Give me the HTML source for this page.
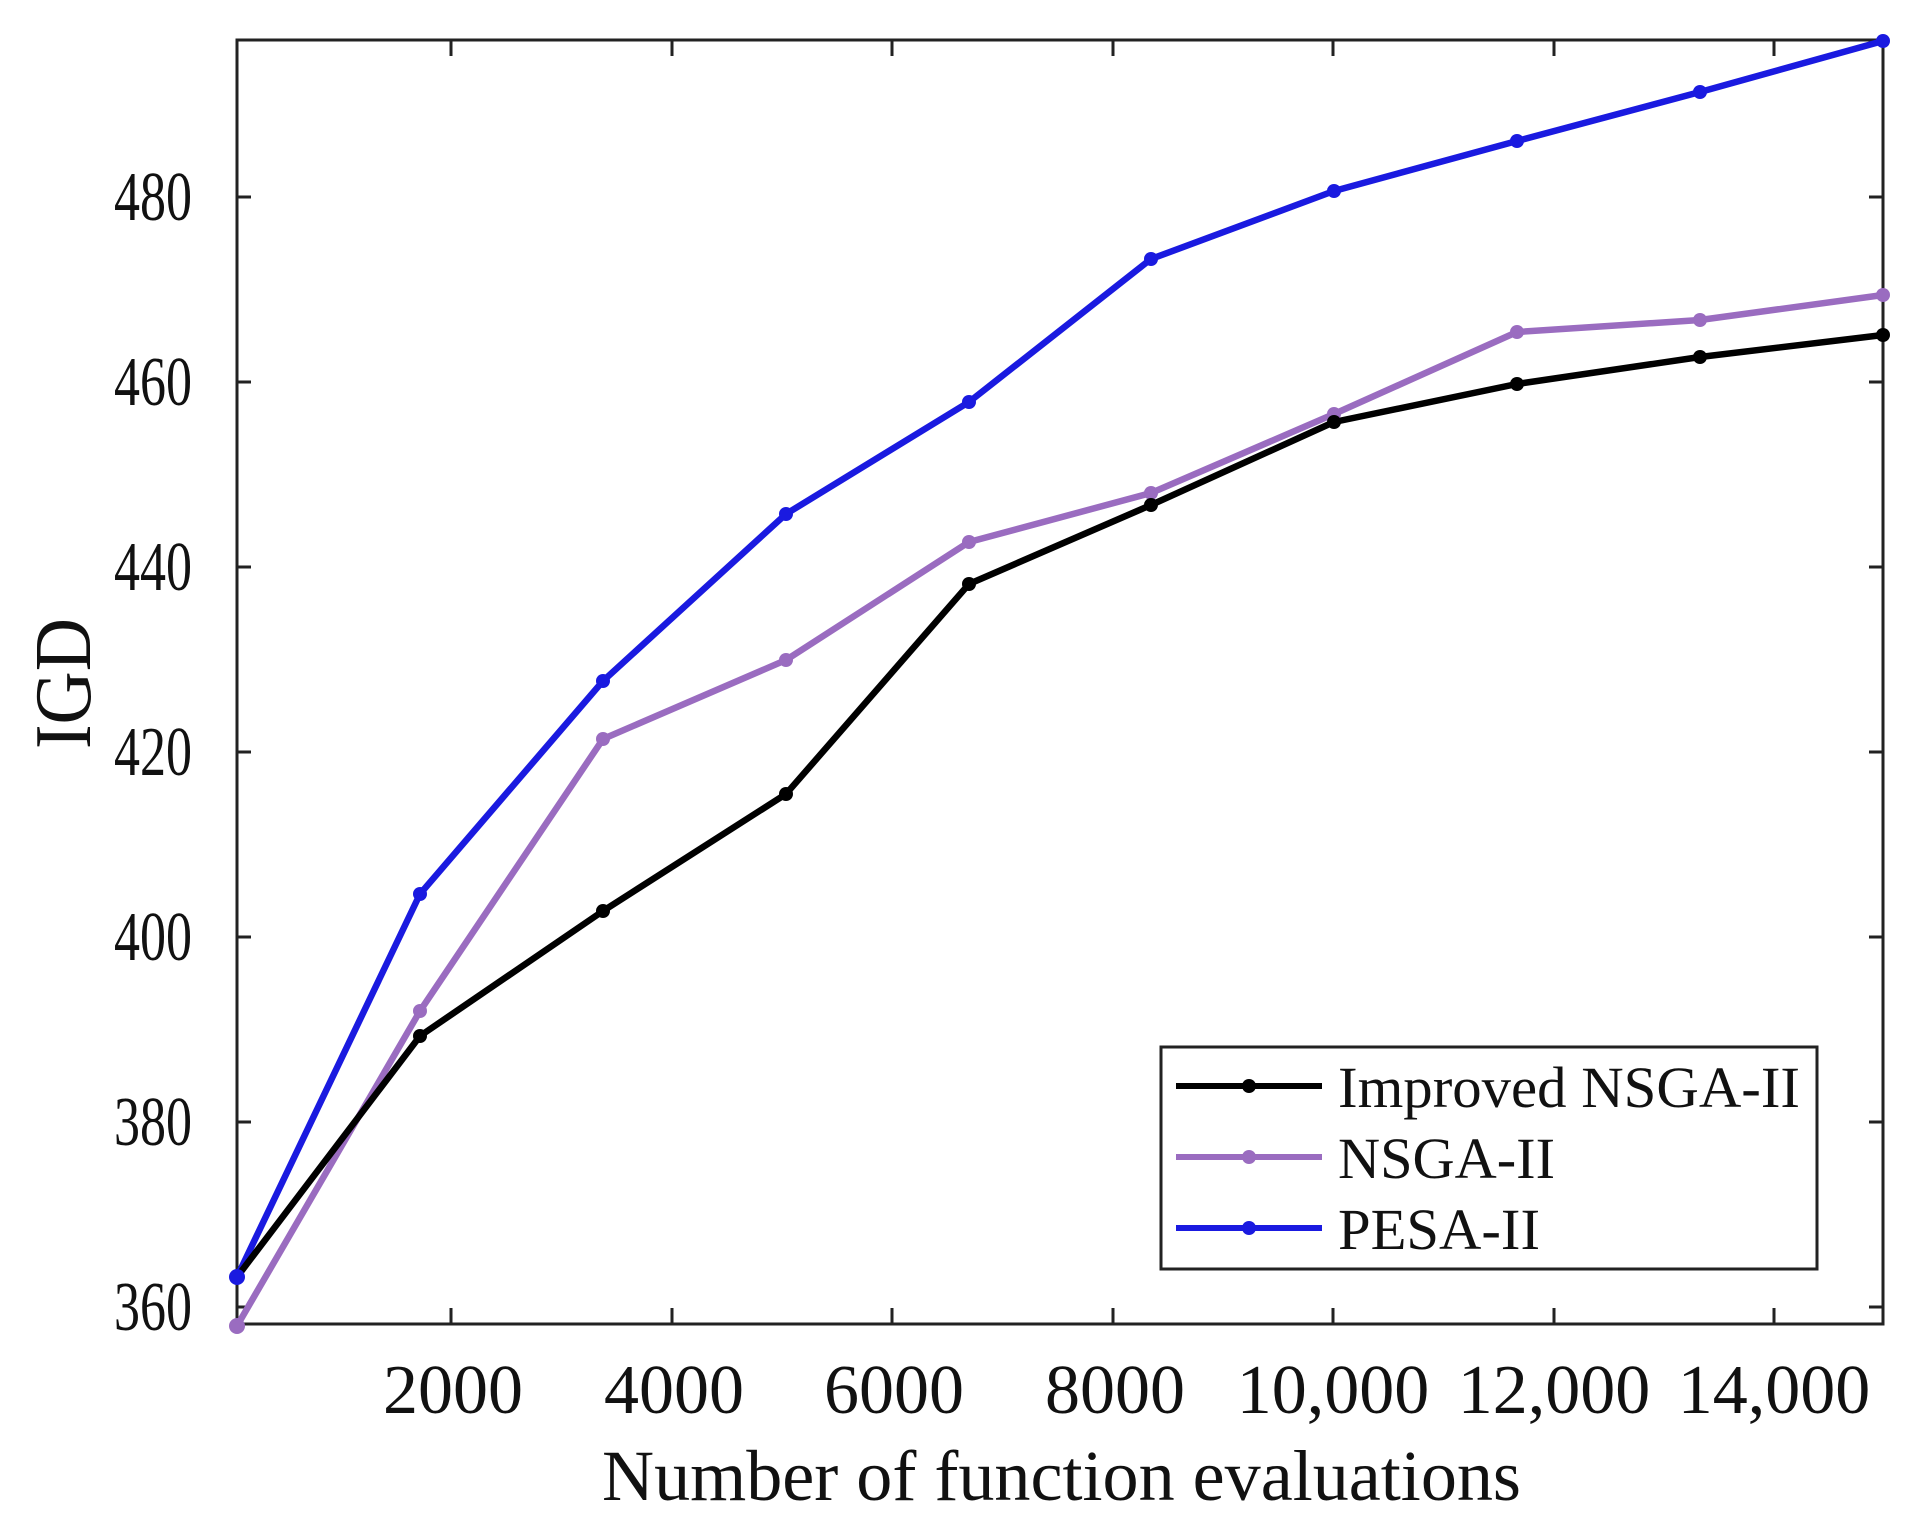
<!DOCTYPE html>
<html><head><meta charset="utf-8"><style>
html,body{margin:0;padding:0;background:#fff;}
svg{display:block;}
text{font-family:"Liberation Serif",serif;fill:#111;}
</style></head><body>
<svg width="1920" height="1530" viewBox="0 0 1920 1530" xmlns="http://www.w3.org/2000/svg">
<rect width="1920" height="1530" fill="#fff"/>
<g stroke="#222" stroke-width="3" fill="none">
<rect x="237" y="40" width="1646" height="1284"/>
<path d="M237 197h14M237 382h14M237 567h14M237 752h14M237 937h14M237 1122h14M237 1307h14M1883 197h-14M1883 382h-14M1883 567h-14M1883 752h-14M1883 937h-14M1883 1122h-14M1883 1307h-14"/>
<path d="M451 1324v-16M672 1324v-16M892 1324v-16M1113 1324v-16M1333 1324v-16M1554 1324v-16M1774 1324v-16M451 40v16M672 40v16M892 40v16M1113 40v16M1333 40v16M1554 40v16M1774 40v16"/>
</g>
<g font-size="70" text-anchor="end" fill="#222">
<text x="192" y="220" textLength="78" lengthAdjust="spacingAndGlyphs">480</text>
<text x="192" y="405" textLength="78" lengthAdjust="spacingAndGlyphs">460</text>
<text x="192" y="590" textLength="78" lengthAdjust="spacingAndGlyphs">440</text>
<text x="192" y="775" textLength="78" lengthAdjust="spacingAndGlyphs">420</text>
<text x="192" y="960" textLength="78" lengthAdjust="spacingAndGlyphs">400</text>
<text x="192" y="1145" textLength="78" lengthAdjust="spacingAndGlyphs">380</text>
<text x="192" y="1330" textLength="78" lengthAdjust="spacingAndGlyphs">360</text>
</g>
<g font-size="70" text-anchor="middle">
<text x="453" y="1413">2000</text><text x="674" y="1413">4000</text><text x="894" y="1413">6000</text><text x="1115" y="1413">8000</text><text x="1333" y="1413">10,000</text><text x="1554" y="1413">12,000</text><text x="1774" y="1413">14,000</text>
</g>
<text x="602" y="1500" font-size="72" textLength="919" lengthAdjust="spacingAndGlyphs" fill="#333">Number of function evaluations</text>
<text transform="translate(90,749) rotate(-90)" font-size="80" textLength="131" lengthAdjust="spacingAndGlyphs">IGD</text>
<g fill="none" stroke-width="6.5" stroke-linejoin="round">
<polyline stroke="#1a1ae0" points="237,1277 420,894 603,681 786,514 969,402 1151,259 1334,191 1517,141 1700,92 1883,41"/>
<polyline stroke="#9a6cc0" points="237,1326 420,1011 603,739 786,660 969,542 1151,493 1334,414 1517,332 1700,320 1883,295"/>
<polyline stroke="#000" points="237,1277 420,1036 603,911 786,794 969,584 1151,505 1334,422 1517,384 1700,357 1883,335"/>
</g>
<g fill="#1a1ae0"><circle cx="237" cy="1277" r="8"/><circle cx="420" cy="894" r="7"/><circle cx="603" cy="681" r="7"/><circle cx="786" cy="514" r="7"/><circle cx="969" cy="402" r="7"/><circle cx="1151" cy="259" r="7"/><circle cx="1334" cy="191" r="7"/><circle cx="1517" cy="141" r="7"/><circle cx="1700" cy="92" r="7"/><circle cx="1883" cy="41" r="7"/></g>
<g fill="#9a6cc0"><circle cx="237" cy="1326" r="8"/><circle cx="420" cy="1011" r="7"/><circle cx="603" cy="739" r="7"/><circle cx="786" cy="660" r="7"/><circle cx="969" cy="542" r="7"/><circle cx="1151" cy="493" r="7"/><circle cx="1334" cy="414" r="7"/><circle cx="1517" cy="332" r="7"/><circle cx="1700" cy="320" r="7"/><circle cx="1883" cy="295" r="7"/></g>
<g fill="#000"><circle cx="420" cy="1036" r="7"/><circle cx="603" cy="911" r="7"/><circle cx="786" cy="794" r="7"/><circle cx="969" cy="584" r="7"/><circle cx="1151" cy="505" r="7"/><circle cx="1334" cy="422" r="7"/><circle cx="1517" cy="384" r="7"/><circle cx="1700" cy="357" r="7"/><circle cx="1883" cy="335" r="7"/></g>
<rect x="1161" y="1047" width="656" height="222" fill="#fff" stroke="#222" stroke-width="3"/>
<g stroke-width="6"><line x1="1176" y1="1086" x2="1322" y2="1086" stroke="#000"/><line x1="1176" y1="1157" x2="1322" y2="1157" stroke="#9a6cc0"/><line x1="1176" y1="1228" x2="1322" y2="1228" stroke="#1a1ae0"/></g>
<circle cx="1249" cy="1086" r="7" fill="#000"/><circle cx="1249" cy="1157" r="7" fill="#9a6cc0"/><circle cx="1249" cy="1228" r="7" fill="#1a1ae0"/>
<g font-size="58">
<text x="1338" y="1107" textLength="462" lengthAdjust="spacingAndGlyphs">Improved NSGA-II</text>
<text x="1338" y="1178" textLength="217" lengthAdjust="spacingAndGlyphs">NSGA-II</text>
<text x="1338" y="1249" textLength="202" lengthAdjust="spacingAndGlyphs">PESA-II</text>
</g>
</svg>
</body></html>
